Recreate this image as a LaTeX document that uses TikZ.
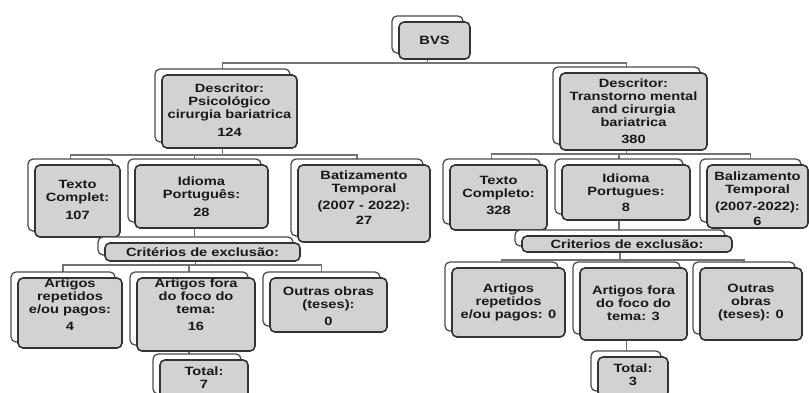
\documentclass[tikz,border=0pt]{standalone}
\usepackage{fontspec}
\setmainfont{Liberation Sans}[FakeStretch=1.22]
\usetikzlibrary{backgrounds}
\tikzset{
  backbox/.style={draw=black!70, line width=1.3pt, fill=white, rounded corners=5pt, inner sep=0pt, outer sep=0pt},
  frontbox/.style={draw=black!80, line width=1.6pt, fill=gray!35, rounded corners=5pt, inner sep=0pt, outer sep=0pt},
  txt/.style={font=\bfseries\fontsize{12}{13}\selectfont, align=center, inner sep=0pt, text=black!90},
  conn/.style={draw=black!55, line width=1.8pt}
}
\newcommand\mybox[7]{%
  \node[backbox, minimum width=#4pt, minimum height=#5pt] (#1B) at ({#2-7},{#3-6}) {};
  \node[frontbox, minimum width=#4pt, minimum height=#5pt] (#1) at (#2,#3) {};
  \node[txt] (#1T) at (#2,{#3+#6}) {#7};
}
\begin{document}
\begin{tikzpicture}[x=1pt,y=-1pt]
\useasboundingbox (0,0) rectangle (809,392);
\clip (0,0) rectangle (809,392);

\mybox{bvs}{434.5}{40.5}{71}{37}{0}{BVS}
\mybox{dL}{229.5}{111.5}{135}{73}{-1}{Descritor:\\Psicológico\\cirurgia bariatrica\\[5pt]124}
\mybox{dR}{633.5}{111.5}{147}{77}{0}{Descritor:\\Transtorno mental\\and cirurgia\\bariatrica\\[4pt]380}

\mybox{tL}{77.5}{201}{85}{72}{-1}{Texto\\Complet:\\[5pt]107}
\mybox{iL}{201.5}{196.5}{133}{63}{0}{Idioma\\Português:\\[5pt]28}
\mybox{zL}{364}{203.5}{132}{77}{-6}{Batizamento\\Temporal\\[4pt](2007 - 2022):\\[2pt]27}
\mybox{tR}{498.5}{197.5}{97}{65}{-2}{Texto\\Completo:\\[4pt]328}
\mybox{iR}{626}{192.5}{128}{55}{0}{Idioma\\Portugues:\\[3pt]8}
\mybox{zR}{757.5}{196.5}{101}{63}{2}{Balizamento\\Temporal\\[4pt](2007-2022):\\[2pt]6}

\mybox{cL}{202.5}{252}{195}{18}{0}{Critérios de exclusão:}
\mybox{cR}{627}{244}{210}{16}{0}{Criterios de exclusão:}

\mybox{rL}{70}{313}{104}{70}{-8}{Artigos\\repetidos\\e/ou pagos:\\[4pt]4}
\mybox{fL}{196}{314.5}{118}{73}{-10}{Artigos fora\\do foco do\\tema:\\[4pt]16}
\mybox{oL}{328.5}{305}{117}{54}{1}{Outras obras\\(teses):\\[4pt]0}
\mybox{rR}{508.5}{302.5}{113}{69}{0}{Artigos\\repetidos\\e/ou pagos: 0}
\mybox{fR}{633.5}{304}{107}{72}{-1}{Artigos fora\\do foco do\\tema: 3}
\mybox{oR}{751}{304}{102}{72}{-1}{Outras\\obras\\(teses): 0}

\mybox{totL}{204}{380}{88}{40}{-2}{Total:\\7}
\mybox{totR}{633}{377}{70}{40}{-2}{Total:\\3}

\begin{pgfonlayer}{background}
\coordinate (b0) at (0,63);
\draw[conn] (bvsB.south) -- (bvsB.south |- b0);
\draw[conn] (dLB.north) -- (dLB.north |- b0) -- (dRB.north |- b0) -- (dRB.north);

\coordinate (b1) at (0,155);
\draw[conn] (dLB.south) -- (dLB.south |- b1);
\draw[conn] (tLB.north) -- (tLB.north |- b1) -- (zLB.north |- b1) -- (zLB.north);
\draw[conn] (iLB.north) -- (iLB.north |- b1);

\coordinate (b2) at (0,154);
\draw[conn] (dRB.south) -- (dRB.south |- b2);
\draw[conn] (tRB.north) -- (tRB.north |- b2) -- (zRB.north |- b2) -- (zRB.north);
\draw[conn] (iRB.north) -- (iRB.north |- b2);

\draw[conn] (iLB.south) -- (iLB.south |- cLB.north);
\draw[conn] (iRB.south) -- (iRB.south |- cRB.north);

\coordinate (b3) at (0,265);
\draw[conn] (cLB.south) -- (cLB.south |- b3);
\draw[conn] (rLB.north) -- (rLB.north |- b3) -- (oLB.north |- b3) -- (oLB.north);
\draw[conn] (fLB.north) -- (fLB.north |- b3);

\coordinate (b4) at (0,260);
\draw[conn] (cRB.south) -- (cRB.south |- b4);
\draw[conn] (rRB.north) -- (rRB.north |- b4) -- (oRB.north |- b4) -- (oRB.north);
\draw[conn] (fRB.north) -- (fRB.north |- b4);

\draw[conn] (fLB.south) -- (fLB.south |- totLB.north);
\draw[conn] (fRB.south) -- (fRB.south |- totRB.north);
\end{pgfonlayer}
\end{tikzpicture}
\end{document}
